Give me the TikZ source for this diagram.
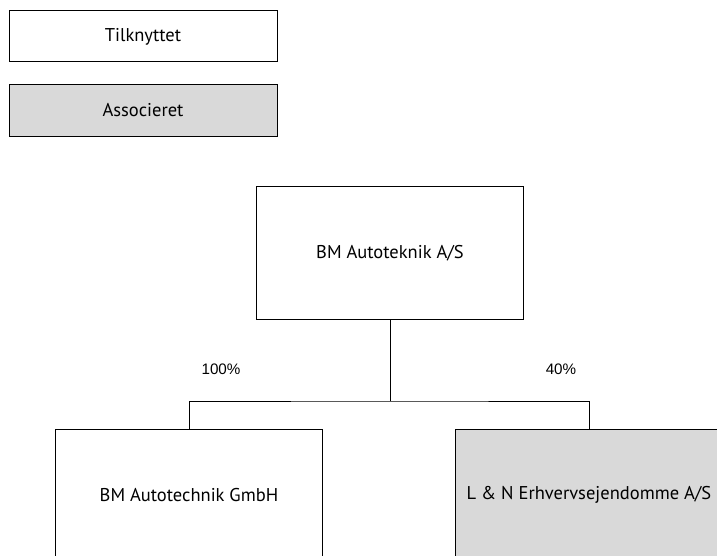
\documentclass[tikz,border=0pt]{standalone}
\usepackage{fontspec}
\setmainfont{PT Sans}
\newfontfamily\pctfont{Liberation Sans}
\definecolor{assocgray}{RGB}{217,217,217}
\begin{document}
\begin{tikzpicture}[x=1pt,y=-1pt,
  boxstyle/.style={draw=black,line width=1pt,inner sep=0pt,
    font=\fontsize{18.5}{21}\selectfont},
  legendbox/.style={boxstyle,minimum width=268pt},
  orgbox/.style={boxstyle,minimum width=267pt,minimum height=132pt},
  pctlabel/.style={font=\pctfont\fontsize{15.2}{18}\selectfont,inner sep=0pt},
  conn/.style={draw=black,line width=1pt}]
\useasboundingbox (0,0) rectangle (717,556);
\node[legendbox,minimum height=51pt] (tilk) at (143,36.5) {Tilknyttet};
\node[legendbox,minimum height=52pt,fill=assocgray] (assoc) at (143,110.5) {Associeret};
\node[orgbox] (top) at (390,253) {BM Autoteknik A/S};
\node[orgbox] (gmbh) at (189,495) {BM Autotechnik GmbH};
\node[orgbox,fill=assocgray,minimum width=268pt] (ln) at (589,495) {L \& N Erhvervsejendomme A/S};
\coordinate (j) at (390,401);
\draw[conn] (top.south) -- (j);
\draw[conn] (gmbh.north) |- (j) -| (ln.north);
\node[pctlabel] (p100) at (221,369) {100\%};
\node[pctlabel] (p40) at (561,369) {40\%};
\end{tikzpicture}
\end{document}
